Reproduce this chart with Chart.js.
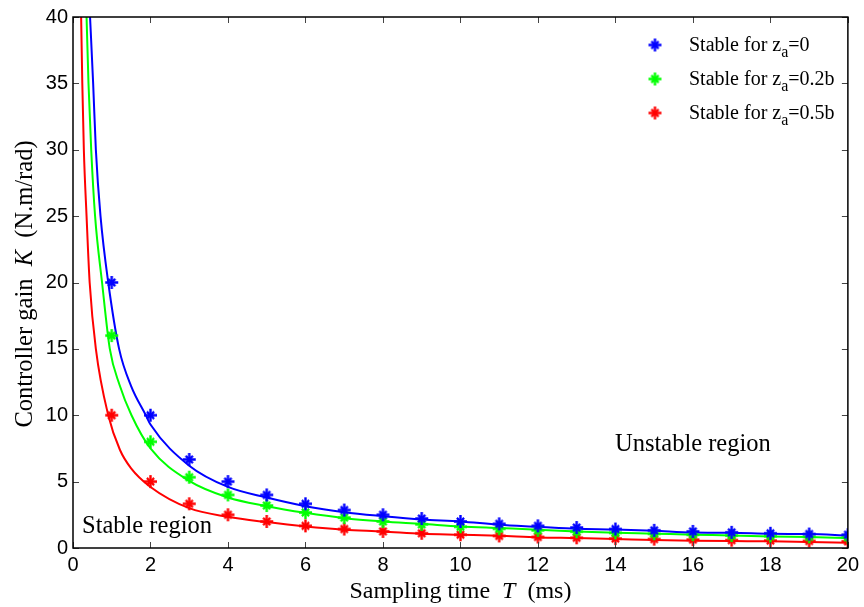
<!DOCTYPE html>
<html>
<head>
<meta charset="utf-8">
<script src="https://cdn.jsdelivr.net/npm/chart.js@4"></script>
<style>
  html, body { margin: 0; padding: 0; background: #fff; }
  #wrap { width: 864px; height: 607px; }
</style>
</head>
<body>
<div id="wrap"><canvas id="c" width="864" height="607"></canvas></div>
<script>
// Sampling times at which stability was checked (ms)
const sampleT = [1, 2, 3, 4, 5, 6, 7, 8, 9, 10, 11, 12, 13, 14, 15, 16, 17, 18, 19, 20];

// Largest stable gain found at each sampling time (N.m/rad)
const stableZa0   = [20, 10, 6.67, 5, 4, 3.33, 2.86, 2.5, 2.22, 2, 1.82, 1.67, 1.54, 1.43, 1.33, 1.25, 1.18, 1.11, 1.05, 1.0];
const stableZa02b = [16, 8, 5.33, 4, 3.2, 2.67, 2.29, 2, 1.78, 1.6, 1.45, 1.33, 1.23, 1.14, 1.07, 1.0, 0.94, 0.89, 0.84, 0.8];
const stableZa05b = [10, 5, 3.33, 2.5, 2, 1.67, 1.43, 1.25, 1.11, 1.0, 0.91, 0.83, 0.77, 0.71, 0.67, 0.63, 0.59, 0.56, 0.53, 0.5];

// Stability boundary curves: sampling time and gain
const boundT0 = [0.44, 0.52, 0.59, 0.71, 0.91, 1.19, 1.5, 1.88, 2, 3, 4, 5, 6, 7, 8, 9, 10, 11, 12, 13, 14, 15, 16, 17, 18, 19, 20];
const boundK0 = [40, 35, 30, 25, 20, 15, 12.2, 10, 9.3, 6.2, 4.6, 3.8, 3.15, 2.7, 2.4, 2.15, 2.0, 1.75, 1.6, 1.45, 1.4, 1.3, 1.17, 1.15, 1.07, 1.05, 0.95];

const boundT02 = [0.35, 0.40, 0.47, 0.57, 0.75, 0.95, 1.2, 1.51, 2, 3, 4, 5, 6, 7, 8, 9, 10, 11, 12, 13, 14, 15, 16, 17, 18, 19, 20];
const boundK02 = [40, 35, 30, 25, 20, 15, 12.3, 10, 7.5, 5.05, 3.8, 3.15, 2.65, 2.25, 2.0, 1.82, 1.62, 1.5, 1.38, 1.25, 1.15, 1.08, 1.0, 0.95, 0.87, 0.82, 0.75];

const boundT05 = [0.21, 0.24, 0.28, 0.35, 0.43, 0.59, 0.91, 1.21, 1.5, 2, 3, 4, 5, 6, 7, 8, 9, 10, 11, 12, 13, 14, 15, 16, 17, 18, 19, 20];
const boundK05 = [40, 35, 30, 25, 20, 15, 10, 7.4, 6.0, 4.6, 3.0, 2.35, 1.95, 1.62, 1.38, 1.25, 1.08, 1.0, 0.92, 0.8, 0.75, 0.68, 0.6, 0.55, 0.52, 0.5, 0.45, 0.4];

// Axis ticks
const xTicks = [0, 2, 4, 6, 8, 10, 12, 14, 16, 18, 20];
const yTicks = [0, 5, 10, 15, 20, 25, 30, 35, 40];

const BLUE = '#0000ff', GREEN = '#00ff00', RED = '#ff0000';
const SERIF = '"Liberation Serif", "Times New Roman", serif';
const SANS = '"Liberation Sans", Arial, sans-serif';

const toXY = (xs, ys) => xs.map((x, i) => ({ x: x, y: ys[i] }));

// Bold asterisk marker: long plus arms with shorter diagonals
function markerImage(color) {
  const s = 17, c = s / 2;
  const cv = document.createElement('canvas');
  cv.width = s; cv.height = s;
  const g = cv.getContext('2d');
  g.strokeStyle = color;
  g.lineCap = 'butt';
  g.lineWidth = 2.4;
  g.beginPath();
  g.moveTo(c - 6.5, c); g.lineTo(c + 6.5, c);
  g.moveTo(c, c - 6.5); g.lineTo(c, c + 6.5);
  g.stroke();
  g.lineWidth = 2.2;
  const d = 3.6;
  g.beginPath();
  g.moveTo(c - d, c - d); g.lineTo(c + d, c + d);
  g.moveTo(c - d, c + d); g.lineTo(c + d, c - d);
  g.stroke();
  return cv;
}

function curve(xs, ys, color) {
  return {
    type: 'scatter', showLine: true, data: toXY(xs, ys),
    borderColor: color, backgroundColor: color, borderWidth: 2,
    pointRadius: 0, pointHoverRadius: 0,
    cubicInterpolationMode: 'monotone', order: 2
  };
}
function marks(ys, color, label) {
  return {
    type: 'scatter', label: label, data: toXY(sampleT, ys),
    borderColor: color, backgroundColor: color,
    pointStyle: markerImage(color), pointRadius: 8, order: 1
  };
}

// Draw a run of text pieces with their own fonts and baseline offsets
function drawRuns(ctx, runs, x, y, align) {
  let total = 0;
  runs.forEach(r => { ctx.font = r.font; total += ctx.measureText(r.text).width; });
  let cx = align === 'center' ? x - total / 2 : x;
  runs.forEach(r => {
    ctx.font = r.font;
    ctx.fillText(r.text, cx, y + (r.dy || 0));
    cx += ctx.measureText(r.text).width;
  });
}

const decorations = {
  id: 'decorations',
  afterDatasetsDraw(chart) {
    const { ctx, chartArea: a, scales } = chart;
    ctx.save();
    // inward tick marks on all four sides
    ctx.strokeStyle = '#444';
    ctx.lineWidth = 1;
    const tl = 6;
    xTicks.forEach(v => {
      const px = Math.round(scales.x.getPixelForValue(v)) + 0.5;
      ctx.beginPath();
      ctx.moveTo(px, a.bottom); ctx.lineTo(px, a.bottom - tl);
      ctx.moveTo(px, a.top); ctx.lineTo(px, a.top + tl);
      ctx.stroke();
    });
    yTicks.forEach(v => {
      const py = Math.round(scales.y.getPixelForValue(v)) + 0.5;
      ctx.beginPath();
      ctx.moveTo(a.left, py); ctx.lineTo(a.left + tl, py);
      ctx.moveTo(a.right, py); ctx.lineTo(a.right - tl, py);
      ctx.stroke();
    });
    // frame
    ctx.strokeStyle = '#000';
    ctx.lineWidth = 1.5;
    ctx.strokeRect(a.left, a.top, a.right - a.left, a.bottom - a.top);

    ctx.fillStyle = '#000';
    ctx.textBaseline = 'alphabetic';
    // region annotations
    ctx.font = '24.5px ' + SERIF;
    ctx.textAlign = 'left';
    ctx.fillText('Unstable region', 615, 451);
    ctx.fillText('Stable region', 82, 533);

    // legend
    const items = [
      { color: BLUE, tail: '=0' },
      { color: GREEN, tail: '=0.2b' },
      { color: RED, tail: '=0.5b' }
    ];
    items.forEach((it, i) => {
      const y = 45 + i * 34;
      const img = markerImage(it.color);
      ctx.drawImage(img, 655 - img.width / 2, y - img.height / 2);
      ctx.fillStyle = '#000';
      drawRuns(ctx, [
        { text: 'Stable for z', font: '20px ' + SERIF },
        { text: 'a', font: '16px ' + SERIF, dy: 6 },
        { text: it.tail, font: '20px ' + SERIF }
      ], 689, y + 6, 'left');
    });

    // x axis title
    drawRuns(ctx, [
      { text: 'Sampling time  ', font: '24px ' + SERIF },
      { text: 'T', font: 'italic 24px ' + SERIF },
      { text: '  (ms)', font: '24px ' + SERIF }
    ], (a.left + a.right) / 2, 598, 'center');

    // y axis title
    ctx.translate(32, 284);
    ctx.rotate(-Math.PI / 2);
    drawRuns(ctx, [
      { text: 'Controller gain  ', font: '24.5px ' + SERIF },
      { text: 'K', font: 'italic 24.5px ' + SERIF },
      { text: '  (N.m/rad)', font: '24.5px ' + SERIF }
    ], 0, 0, 'center');
    ctx.restore();
  }
};

new Chart(document.getElementById('c'), {
  type: 'scatter',
  data: {
    datasets: [
      curve(boundT0, boundK0, BLUE),
      curve(boundT02, boundK02, GREEN),
      curve(boundT05, boundK05, RED),
      marks(stableZa0, BLUE, 'Stable for z_a=0'),
      marks(stableZa02b, GREEN, 'Stable for z_a=0.2b'),
      marks(stableZa05b, RED, 'Stable for z_a=0.5b')
    ]
  },
  options: {
    responsive: false,
    animation: false,
    layout: { padding: { top: 16, right: 15, left: 0, bottom: 0 } },
    plugins: { legend: { display: false }, tooltip: { enabled: false } },
    scales: {
      x: {
        type: 'linear', min: 0, max: 20,
        afterBuildTicks: s => { s.ticks = xTicks.map(v => ({ value: v })); },
        afterFit: s => { s.height = 59; },
        grid: { display: false, drawTicks: false },
        border: { display: false },
        ticks: { color: '#000', font: { family: SANS, size: 20 }, padding: 5, maxRotation: 0 }
      },
      y: {
        type: 'linear', min: 0, max: 40,
        afterBuildTicks: s => { s.ticks = yTicks.map(v => ({ value: v })); },
        afterFit: s => { s.width = 73; },
        grid: { display: false, drawTicks: false },
        border: { display: false },
        ticks: { color: '#000', font: { family: SANS, size: 20 }, padding: 5 }
      }
    }
  },
  plugins: [decorations]
});
</script>
</body>
</html>
